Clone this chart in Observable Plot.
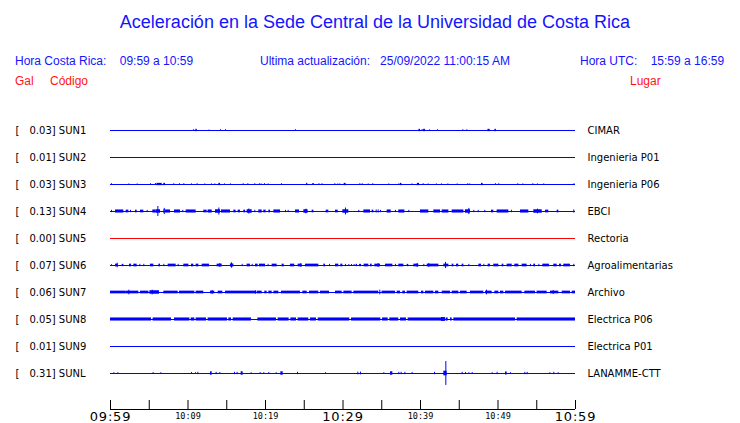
<!DOCTYPE html>
<html><head><meta charset="utf-8">
<script src="https://cdn.jsdelivr.net/npm/d3@7"></script>
<script src="https://cdn.jsdelivr.net/npm/@observablehq/plot@0.6"></script>
<style>
html,body{margin:0;padding:0;background:#fff;}
#wrap{position:relative;width:740px;height:423px;overflow:hidden;}
.h{position:absolute;font-family:"Liberation Sans",Arial,sans-serif;white-space:pre;line-height:1;font-size:12px;}
.b{color:#1414ff;}
.r{color:#ff1414;}
</style></head><body>
<div id="wrap"></div>
<script>
// ---------------- data ----------------
const stations = ["SUN1","SUN2","SUN3","SUN4","SUN5","SUN6","SUN7","SUN8","SUN9","SUNL"];
const peaks = [0.03, 0.01, 0.03, 0.13, 0.00, 0.07, 0.06, 0.05, 0.01, 0.31];
const places = ["CIMAR","Ingenieria P01","Ingenieria P06","EBCI","Rectoria","Agroalimentarias","Archivo","Electrica P06","Electrica P01","LANAMME-CTT"];
const traceColors = ["blue","blue","blue","blue","red","blue","blue","blue","blue","blue"];

// time in minutes after 09:59 (local); window 09:59 - 10:59
const timeDomain = [0, 60];
const tickMinutes = [0,5,10,15,20,25,30,35,40,45,50,55,60];
const majorTickMinutes = [0, 30, 60];
const majorTickLabels = ["09:59", "10:29", "10:59"];
const minorTickMinutes = [10, 20, 40, 50];
const minorTickLabels = ["10:09", "10:19", "10:39", "10:49"];

// events per station: [start minute, end minute, half amplitude (gal)]
const sun1Events = [[10.75,10.85,0.025],[11.0,11.2,0.03],[12.7,12.7,0.012],[14.19,14.19,0.02],[14.84,14.84,0.02],[23.87,23.87,0.02],[39.8,40.0,0.03],[40.2,40.2,0.025],[40.4,40.65,0.03],[41.16,41.16,0.015],[42.2,42.2,0.02],[45.46,45.46,0.02],[45.98,45.98,0.02],[48.7,49.0,0.03],[49.6,49.8,0.03]];
const sun2Events = [];
const sun3Events = [[0.13,0.13,0.02],[2.37,2.37,0.015],[3.44,3.44,0.015],[5.16,5.16,0.02],[5.8,5.8,0.025],[6.0,6.67,0.03],[6.88,7.1,0.03],[8.17,8.17,0.02],[8.9,8.9,0.02],[9.46,9.46,0.02],[10.45,10.45,0.015],[11.18,11.18,0.02],[12.17,12.17,0.015],[13.03,13.03,0.015],[13.46,13.46,0.015],[13.98,14.2,0.03],[14.71,14.71,0.015],[15.48,15.48,0.015],[17.12,17.12,0.02],[17.72,17.72,0.02],[18.62,18.62,0.02],[19.2,19.2,0.02],[19.44,19.44,0.015],[19.87,19.87,0.02],[20.34,20.34,0.015],[22.06,22.06,0.02],[25.3,25.46,0.03],[26.1,26.3,0.025],[26.9,26.9,0.02],[27.3,27.3,0.02],[28.95,28.95,0.02],[29.33,29.33,0.015],[29.6,29.6,0.015],[30.15,30.4,0.03],[32.17,32.17,0.02],[32.47,32.47,0.02],[33.25,33.25,0.015],[33.85,33.85,0.02],[35.91,35.91,0.015],[37.2,37.2,0.015],[37.4,37.6,0.03],[38.9,38.9,0.015],[39.6,39.87,0.03],[40.34,40.34,0.02],[40.99,40.99,0.015],[42.06,42.06,0.015],[42.7,42.7,0.015],[43.53,43.53,0.015],[44.73,44.73,0.015],[46.1,46.1,0.02],[46.36,46.36,0.015],[47.87,48.08,0.03],[49.67,49.67,0.02],[50.1,50.1,0.02],[52.56,52.56,0.02],[53.2,53.2,0.015],[54.5,54.5,0.02],[55.1,55.1,0.015],[55.9,55.9,0.015],[59.8,59.8,0.02]];
const sun4Events = [[0.13,0.13,0.03],[0.65,1.72,0.04],[2.02,2.37,0.035],[2.58,2.58,0.03],[3.23,3.44,0.035],[3.87,4.3,0.035],[4.73,4.73,0.03],[5.46,5.89,0.04],[5.89,6.45,0.045],[6.11,6.11,0.13],[6.88,7.01,0.045],[6.94,6.94,0.08],[7.1,7.74,0.04],[8.26,9.03,0.04],[9.33,9.33,0.03],[9.76,11.05,0.04],[12.04,12.47,0.035],[12.6,13.12,0.04],[13.55,14.19,0.045],[13.98,13.98,0.09],[14.32,15.48,0.04],[15.91,16.21,0.035],[16.47,16.77,0.035],[17.2,17.42,0.035],[17.63,18.28,0.045],[17.85,17.85,0.065],[18.62,18.62,0.03],[19.14,19.57,0.04],[19.78,20.08,0.035],[20.43,20.64,0.035],[21.08,21.94,0.04],[22.58,22.58,0.03],[22.92,22.92,0.03],[23.87,24.39,0.04],[24.95,25.5,0.045],[25.22,25.22,0.06],[26.02,26.24,0.035],[27.83,28.17,0.035],[29.03,29.38,0.035],[29.98,30.75,0.045],[30.32,30.32,0.09],[32.04,32.04,0.03],[32.69,33.55,0.04],[33.76,33.98,0.035],[34.28,34.28,0.04],[34.54,34.54,0.04],[34.84,34.84,0.03],[35.7,36.22,0.04],[36.77,36.77,0.03],[37.2,37.98,0.04],[38.49,38.49,0.03],[40.0,41.07,0.04],[41.72,42.58,0.04],[42.8,43.66,0.04],[44.09,45.59,0.04],[45.8,46.45,0.045],[46.24,46.24,0.08],[46.88,46.88,0.03],[47.44,47.44,0.03],[48.3,48.3,0.03],[49.16,49.46,0.035],[49.89,51.4,0.04],[51.74,51.74,0.03],[52.9,53.98,0.04],[54.62,55.7,0.045],[55.1,55.1,0.06],[56.13,56.56,0.035],[57.63,57.85,0.035],[59.78,59.78,0.04]];
const sun5Events = [];
const sun6Events = [[0.13,0.13,0.02],[0.65,0.99,0.035],[0.86,0.86,0.06],[1.51,1.72,0.03],[2.45,2.71,0.035],[3.01,3.44,0.035],[3.79,3.79,0.03],[4.3,4.3,0.03],[5.16,5.59,0.035],[6.24,6.45,0.035],[6.88,6.88,0.03],[7.44,8.47,0.035],[8.73,8.73,0.03],[9.46,10.11,0.035],[10.45,10.75,0.035],[11.05,11.4,0.035],[11.83,12.77,0.035],[13.76,14.41,0.035],[14.11,14.11,0.05],[15.48,15.91,0.04],[15.61,15.61,0.07],[16.99,16.99,0.03],[17.63,18.06,0.035],[18.28,18.28,0.03],[18.71,19.05,0.035],[19.22,20.0,0.035],[20.34,20.34,0.03],[20.86,21.5,0.035],[22.15,22.41,0.035],[23.22,23.78,0.035],[24.21,24.73,0.035],[24.56,24.56,0.05],[25.16,26.88,0.035],[27.53,27.74,0.035],[28.26,28.26,0.03],[29.03,29.46,0.035],[29.72,29.98,0.035],[30.32,30.32,0.03],[30.75,30.75,0.025],[31.1,31.1,0.025],[31.44,31.44,0.025],[31.7,31.87,0.03],[32.13,32.39,0.03],[32.73,33.33,0.035],[33.55,33.76,0.035],[34.11,34.84,0.035],[34.54,34.54,0.05],[35.48,36.43,0.035],[36.77,36.77,0.03],[37.2,37.85,0.035],[38.28,38.49,0.03],[39.14,39.78,0.035],[39.57,39.57,0.05],[40.43,40.43,0.03],[40.86,42.37,0.035],[41.07,41.07,0.05],[43.01,43.66,0.035],[43.23,43.23,0.08],[44.09,44.3,0.035],[44.64,44.94,0.035],[45.38,45.59,0.035],[46.24,46.24,0.03],[47.53,47.87,0.035],[48.17,48.17,0.03],[48.73,49.03,0.035],[49.46,50.11,0.035],[50.54,50.75,0.035],[51.18,51.83,0.035],[52.17,52.69,0.035],[53.12,53.76,0.035],[54.19,54.19,0.03],[54.62,54.84,0.035],[55.27,55.27,0.03],[55.78,56.64,0.035],[57.2,57.63,0.035],[57.93,58.19,0.035],[58.49,59.35,0.035],[59.78,59.78,0.03]];
const sun7Events = [[0.0,2.02,0.035],[2.02,3.66,0.035],[2.37,2.37,0.06],[3.87,4.95,0.035],[5.08,6.32,0.045],[5.38,5.38,0.06],[6.88,8.73,0.035],[8.9,10.88,0.035],[11.05,12.04,0.035],[12.9,13.46,0.035],[13.12,13.12,0.05],[13.89,14.49,0.035],[14.84,18.71,0.035],[18.71,18.71,0.045],[18.92,19.57,0.035],[19.91,20.21,0.035],[20.43,20.86,0.035],[21.08,21.72,0.035],[22.06,24.52,0.035],[24.82,25.38,0.035],[25.68,26.88,0.035],[27.1,28.26,0.035],[29.03,29.89,0.035],[30.11,31.18,0.035],[31.4,34.62,0.035],[34.75,34.75,0.06],[35.05,36.77,0.035],[36.99,37.42,0.035],[37.72,38.06,0.035],[38.28,39.78,0.035],[40.13,40.43,0.035],[40.64,41.72,0.035],[41.93,42.37,0.035],[42.8,43.87,0.035],[44.09,44.95,0.035],[45.16,46.02,0.035],[46.45,48.17,0.035],[48.39,49.25,0.035],[48.52,48.52,0.06],[49.59,50.11,0.035],[50.32,50.75,0.035],[50.97,53.12,0.035],[53.46,54.84,0.035],[55.05,56.34,0.035],[56.77,57.85,0.035],[57.12,57.12,0.05],[58.28,59.35,0.035],[59.57,60.0,0.035]];
const sun8Events = [[0.0,5.29,0.04],[5.5,7.87,0.04],[8.26,10.24,0.04],[10.41,10.88,0.04],[11.05,12.39,0.04],[12.6,15.1,0.04],[15.27,15.61,0.04],[15.83,18.19,0.04],[19.01,21.42,0.04],[21.63,23.05,0.04],[23.27,24.0,0.04],[24.21,25.59,0.04],[25.8,26.58,0.04],[26.8,30.88,0.04],[31.1,34.88,0.04],[35.1,35.83,0.04],[36.04,37.2,0.04],[37.42,38.19,0.04],[38.41,42.88,0.04],[42.71,43.23,0.05],[43.31,43.57,0.04],[43.87,44.09,0.04],[44.3,52.26,0.04],[52.47,60.0,0.04]];
const sun9Events = [];
const sunLEvents = [[0.43,0.43,0.02],[0.95,0.95,0.02],[5.5,5.5,0.025],[6.49,6.49,0.02],[10.45,10.45,0.025],[10.97,10.97,0.02],[11.27,11.27,0.03],[12.9,13.12,0.045],[13.63,13.63,0.03],[14.11,14.11,0.025],[16.0,16.0,0.03],[16.34,16.34,0.03],[16.86,17.12,0.045],[18.15,18.15,0.02],[19.31,19.31,0.025],[19.78,19.78,0.02],[20.43,20.43,0.025],[21.38,21.38,0.02],[21.98,22.28,0.045],[24.13,24.13,0.03],[27.74,27.74,0.02],[31.91,31.91,0.035],[32.26,32.26,0.035],[35.27,35.27,0.02],[36.13,36.43,0.045],[37.2,37.2,0.03],[37.5,37.5,0.03],[37.98,37.98,0.03],[38.92,38.92,0.025],[41.81,41.81,0.03],[43.01,43.44,0.06],[43.27,43.27,0.31],[45.38,45.38,0.03],[45.81,45.81,0.025],[46.24,46.24,0.02],[46.67,46.67,0.025],[49.25,49.25,0.02],[49.89,49.89,0.03],[50.97,51.18,0.04],[51.61,51.61,0.02],[53.46,53.46,0.03],[53.76,53.76,0.03],[56.69,56.69,0.02],[57.2,57.2,0.03],[57.76,57.76,0.02]];
const stationEvents = [sun1Events,sun2Events,sun3Events,sun4Events,sun5Events,sun6Events,sun7Events,sun8Events,sun9Events,sunLEvents];

// ---------------- layout ----------------
const W = 740, H = 423;
const mLeft = 110, mRight = 165, mTop = 100, mBottom = 14;
const firstRowPx = 130, rowPx = 27;
const galPerRow = 0.7;               // gal spanned by one row spacing
const yTop = -(firstRowPx - mTop) / rowPx;
const yBottom = (H - mBottom - firstRowPx) / rowPx;
const frameH = H - mTop - mBottom;

const rows = stations.map((s, i) => ({
  row: i, station: s, peak: peaks[i], place: places[i], color: traceColors[i],
  x1: timeDomain[0], x2: timeDomain[1],
  label: peaks[i].toFixed(2) + "] " + s
}));
const bursts = [], spikes = [];
stationEvents.forEach((evs, i) => {
  evs.forEach(([t0, t1, a]) => {
    const d = {t0, t1, lo: i - a / galPerRow, hi: i + a / galPerRow, color: traceColors[i]};
    (t1 > t0 ? bursts : spikes).push(d);
  });
});
const majors = majorTickMinutes.map((t, i) => ({t, label: majorTickLabels[i]}));
const minors = minorTickMinutes.map((t, i) => ({t, label: minorTickLabels[i]}));

const chart = Plot.plot({
  width: W, height: H,
  marginLeft: mLeft, marginRight: mRight, marginTop: mTop, marginBottom: mBottom,
  style: {fontFamily: "DejaVu Sans", fontSize: "10px", background: "white", overflow: "visible"},
  x: {domain: timeDomain, axis: null},
  y: {domain: [yTop, yBottom], reverse: true, axis: null},
  color: {type: "identity"},
  marks: [
    Plot.ruleY(rows, {y: "row", x1: "x1", x2: "x2", stroke: "color", strokeWidth: 1}),
    Plot.rect(bursts, {x1: "t0", x2: "t1", y1: "lo", y2: "hi", fill: "color"}),
    Plot.ruleX(spikes, {x: "t0", y1: "lo", y2: "hi", stroke: "color", strokeWidth: 1}),
    Plot.text(rows, {y: "row", text: () => "[", frameAnchor: "left", dx: -95, textAnchor: "start", fill: "black", fontSize: 10}),
    Plot.text(rows, {y: "row", text: "label", frameAnchor: "left", dx: -81, textAnchor: "start", fill: "black", fontSize: 10}),
    Plot.text(rows, {y: "row", text: "place", frameAnchor: "right", dx: 12, textAnchor: "start", fill: "black", fontSize: 10}),
    Plot.ruleY([yBottom], {stroke: "black", strokeWidth: 1}),
    Plot.ruleX(tickMinutes, {stroke: "black", strokeWidth: 1, insetTop: frameH - 9}),
    Plot.text(majors, {x: "t", text: "label", frameAnchor: "bottom", lineAnchor: "top", dy: 2, fontSize: 13, fill: "black", fontFamily: "DejaVu Sans"}),
    Plot.text(minors, {x: "t", text: "label", frameAnchor: "bottom", lineAnchor: "top", dy: 3, fontSize: 8.5, fill: "black", fontFamily: "DejaVu Sans Mono"})
  ]
});
const wrap = document.getElementById("wrap");
wrap.appendChild(chart);
// letter-spacing for the large time labels
d3.select(chart).selectAll("text")
  .filter(function() { return majorTickLabels.includes(this.textContent); })
  .style("letter-spacing", "0.8px");

// header texts
const headerItems = [
  {text: "Aceleración en la Sede Central de la Universidad de Costa Rica", cls: "b", left: 0, width: 750, align: "center", baseline: 28, size: 18},
  {text: "Hora Costa Rica:    09:59 a 10:59", cls: "b", left: 15, baseline: 65, size: 12},
  {text: "Ultima actualización:   25/09/2022 11:00:15 AM", cls: "b", left: 260, baseline: 65, size: 12},
  {text: "Hora UTC:    15:59 a 16:59", cls: "b", left: 580, baseline: 65, size: 12},
  {text: "Gal", cls: "r", left: 15, baseline: 85, size: 12},
  {text: "Código", cls: "r", left: 50, baseline: 85, size: 12},
  {text: "Lugar", cls: "r", left: 630, baseline: 85, size: 12}
];
headerItems.forEach(h => {
  const d = document.createElement("div");
  d.className = "h " + h.cls;
  d.textContent = h.text;
  d.style.fontSize = h.size + "px";
  d.style.left = h.left + "px";
  d.style.top = (h.baseline - 0.8465 * h.size) + "px";
  if (h.width) { d.style.width = h.width + "px"; d.style.textAlign = h.align; }
  wrap.appendChild(d);
});
</script>
</body></html>
